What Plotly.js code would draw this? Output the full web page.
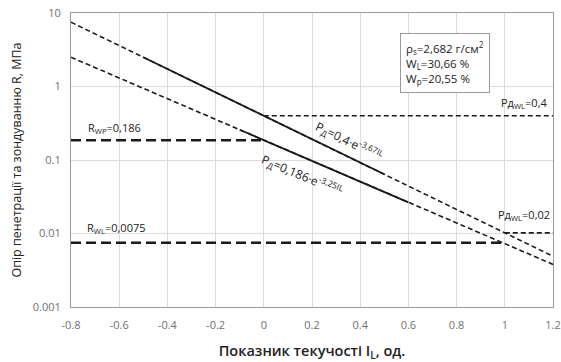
<!DOCTYPE html>
<html><head><meta charset="utf-8">
<script src="https://cdn.plot.ly/plotly-3.0.1.min.js"></script>
<style>body{margin:0;background:#fff}#chart{width:561px;height:362px}</style>
</head><body><div id="chart"></div>
<script>
// Exponential fits (endpoints of straight lines on log scale)
const fullX = [-0.8, 1.2];
const fit1DashedY = [7.5, 0.0049];        // Pд = 0.4·e^(-3.67 IL), extrapolated
const fit1SolidX = [-0.5, 0.5];
const fit1SolidY = [2.5, 0.064];
const fit2DashedY = [2.5, 0.0038];        // Pд = 0.186·e^(-3.25 IL), extrapolated
const fit2SolidX = [-0.1, 0.6];
const fit2SolidY = [0.258, 0.0265];
const rwpX = [-0.8, 0];    const rwpY = [0.186, 0.186];
const pwl04X = [0, 1.2];   const pwl04Y = [0.4, 0.4];
const rwlX = [-0.8, 0.99]; const rwlY = [0.0075, 0.0075];
const pwl002X = [1.0, 1.2]; const pwl002Y = [0.0102, 0.0102];
const xTicks = [-0.8, -0.6, -0.4, -0.2, 0, 0.2, 0.4, 0.6, 0.8, 1, 1.2];
const xTickText = ['-0.8','-0.6','-0.4','-0.2','0','0.2','0.4','0.6','0.8','1','1.2'];
const yTicks = [0.001, 0.01, 0.1, 1, 10];
const yTickText = ['0.001','0.01','0.1','1','10'];

const shortDash = {color:'#1a1a1a', width:1.6, dash:'5px,3px'};
const longDash = {color:'#1a1a1a', width:2.4, dash:'10px,5px'};
const solid = {color:'#1a1a1a', width:1.8};

const traces = [
  {x: fullX, y: fit1DashedY, mode:'lines', line: shortDash},
  {x: fullX, y: fit2DashedY, mode:'lines', line: shortDash},
  {x: fit1SolidX, y: fit1SolidY, mode:'lines', line: solid},
  {x: fit2SolidX, y: fit2SolidY, mode:'lines', line: solid},
  {x: rwpX, y: rwpY, mode:'lines', line: longDash},
  {x: pwl04X, y: pwl04Y, mode:'lines', line: shortDash},
  {x: rwlX, y: rwlY, mode:'lines', line: longDash},
  {x: pwl002X, y: pwl002Y, mode:'lines', line: shortDash}
];

const F = 'Open Sans, Liberation Sans, sans-serif';
const lab = (x, y, text, extra) => Object.assign({x, y, text, xref:'x', yref:'y', showarrow:false,
  font:{family:F, size:11, color:'#222'}}, extra||{});

const layout = {
  width:561, height:362,
  margin:{l:71, r:8, t:13, b:55},
  paper_bgcolor:'#fff', plot_bgcolor:'#fff',
  showlegend:false,
  font:{family:F, color:'#444'},
  xaxis:{range:[-0.8,1.2], tickvals:xTicks, ticktext:xTickText,
    showgrid:true, gridcolor:'#dcdcdc', gridwidth:1,
    showline:true, linecolor:'#9a9a9a', linewidth:1, mirror:true, zeroline:false,
    ticks:'', ticklabelstandoff:8, tickfont:{family:F, size:11, color:'#707070'},
    title:{text:'Показник текучості I<sub>L</sub>, од.', font:{family:F, size:14.5, color:'#222', weight:600}, standoff:15}},
  yaxis:{type:'log', range:[-3,1], tickvals:yTicks, ticktext:yTickText,
    showgrid:true, gridcolor:'#dcdcdc', gridwidth:1,
    showline:true, linecolor:'#9a9a9a', linewidth:1, mirror:true, zeroline:false,
    ticks:'', ticklabelstandoff:7, tickfont:{family:F, size:11, color:'#707070'},
    title:{text:'Опір пенетрації та зондуванню R, МПа', font:{family:F, size:12.5, color:'#222'}, standoff:8}},
  annotations:[
    lab(-0.62, Math.log10(0.186), 'R<sub>WP</sub>=0,186', {yshift:12}),
    lab(-0.61, Math.log10(0.0075), 'R<sub>WL</sub>=0,0075', {yshift:15}),
    lab(1.08, Math.log10(0.4), 'Pд<sub>WL</sub>=0,4', {yshift:13}),
    lab(1.08, Math.log10(0.0102), 'Pд<sub>WL</sub>=0,02', {yshift:18}),
    lab(0.355, Math.log10(0.18), 'P<sub>Д</sub>=0,4·e<sup>-3,67IL</sup>', {textangle:26, font:{family:F, size:12, color:'#222'}}),
    lab(0.16, Math.log10(0.062), 'P<sub>Д</sub>=0,186·e<sup>-3,25IL</sup>', {textangle:23, font:{family:F, size:12, color:'#222'}}),
    {x:0.565, y:Math.log10(5.3), xref:'x', yref:'y', xanchor:'left', yanchor:'top', showarrow:false, align:'left',
     text:'ρ<sub>s</sub>=2,682 г/см<sup>2</sup><br>W<sub>L</sub>=30,66 %<br>W<sub>p</sub>=20,55 %',
     font:{family:F, size:11.5, color:'#222'}, bordercolor:'#9a9a9a', borderwidth:1, borderpad:5, bgcolor:'#fff'}
  ]
};
Plotly.newPlot('chart', traces, layout, {staticPlot:true, displayModeBar:false});
</script></body></html>
